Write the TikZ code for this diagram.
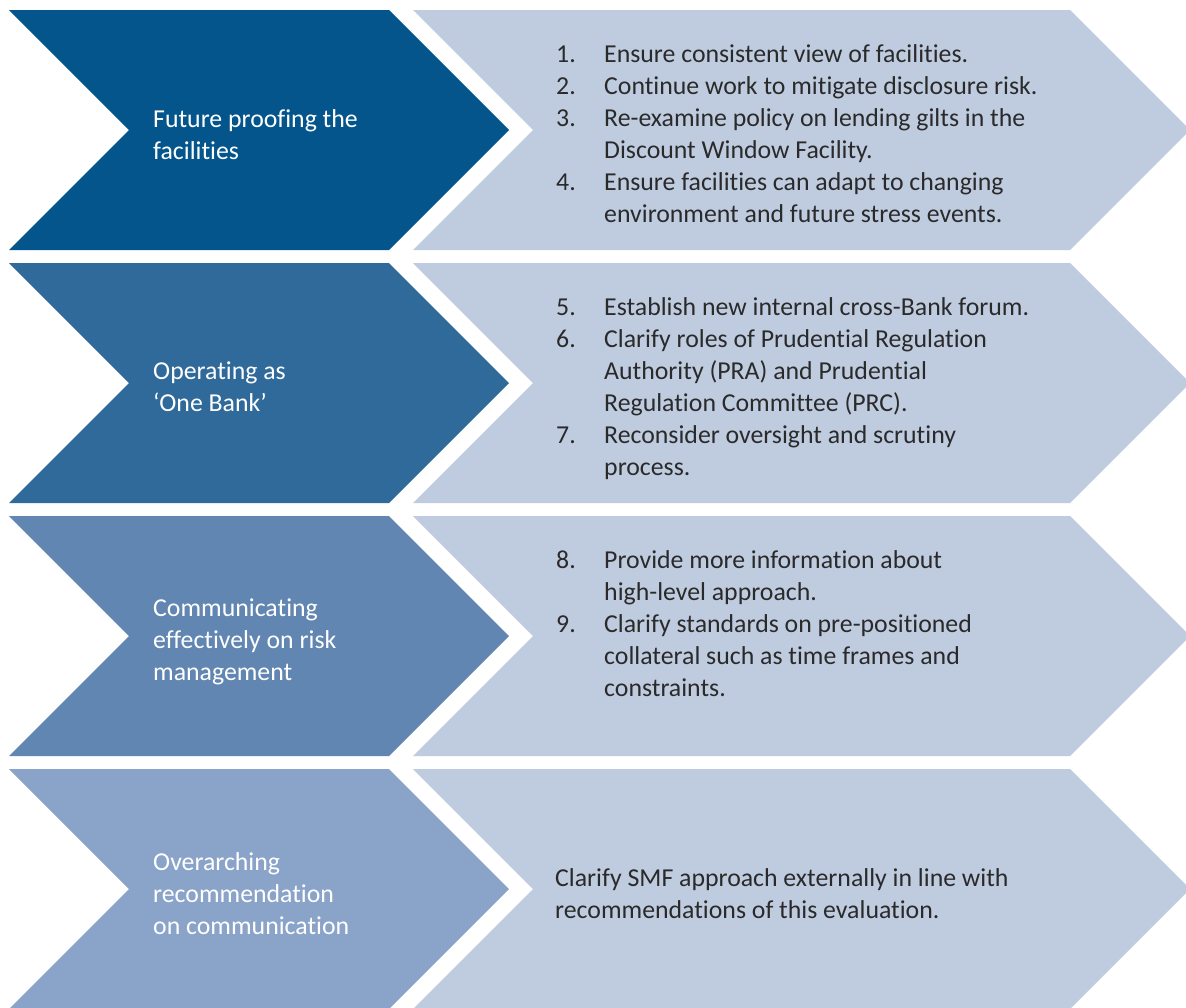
\documentclass[tikz,border=0pt]{standalone}
\usepackage{fontspec}
\setmainfont{Carlito}[RawFeature={-liga;-clig;-calt;-dlig;-rlig;-ccmp}]
\definecolor{rowA}{HTML}{03558C}
\definecolor{rowB}{HTML}{2F6A9A}
\definecolor{rowC}{HTML}{6186B2}
\definecolor{rowD}{HTML}{8AA3C8}
\definecolor{lightrow}{HTML}{BFCCE0}
\definecolor{txt}{HTML}{2A2A2A}
\tikzset{
  lefttext/.style={anchor=base west, inner sep=0pt, text=white, font=\fontsize{25.8}{32}\selectfont},
  righttext/.style={anchor=base west, inner sep=0pt, text=txt, font=\fontsize{25.8}{32}\selectfont},
}
\begin{document}
\begin{tikzpicture}[x=1pt,y=-1pt]
\useasboundingbox (0,0) rectangle (1186,1007);
\fill[white] (0,0) rectangle (1186,1007);
\foreach \t/\c in {10/rowA,263/rowB,516/rowC,769/rowD}{
  \fill[\c] (9,\t) -- (389,\t) -- (509,\t+120) -- (389,\t+240) -- (9,\t+240) -- (129,\t+120) -- cycle;
  \fill[lightrow] (413,\t) -- (1070,\t) -- (1190,\t+120) -- (1070,\t+240) -- (413,\t+240) -- (533,\t+120) -- cycle;
}
% left labels
\node[lefttext] (l1) at (153,127) {\begin{tabular}[t]{@{}l@{}}Future proofing the\\facilities\end{tabular}};
\node[lefttext] (l2) at (153,379) {\begin{tabular}[t]{@{}l@{}}Operating as\\‘One Bank’\end{tabular}};
\node[lefttext] (l3) at (153,616) {\begin{tabular}[t]{@{}l@{}}Communicating\\effectively on risk\\management\end{tabular}};
\node[lefttext] (l4) at (153,870) {\begin{tabular}[t]{@{}l@{}}Overarching\\recommendation\\on communication\end{tabular}};
% right lists
\node[righttext] (r1) at (556,62) {\begin{tabular}[t]{@{}l@{}l@{}}
\makebox[48pt][l]{1.}&Ensure consistent view of facilities.\\
\makebox[48pt][l]{2.}&Continue work to mitigate disclosure risk.\\
\makebox[48pt][l]{3.}&Re-examine policy on lending gilts in the\\
&Discount Window Facility.\\
\makebox[48pt][l]{4.}&Ensure facilities can adapt to changing\\
&environment and future stress events.
\end{tabular}};
\node[righttext] (r2) at (556,315) {\begin{tabular}[t]{@{}l@{}l@{}}
\makebox[48pt][l]{5.}&Establish new internal cross-Bank forum.\\
\makebox[48pt][l]{6.}&Clarify roles of Prudential Regulation\\
&Authority (PRA) and Prudential\\
&Regulation Committee (PRC).\\
\makebox[48pt][l]{7.}&Reconsider oversight and scrutiny\\
&process.
\end{tabular}};
\node[righttext] (r3) at (556,568) {\begin{tabular}[t]{@{}l@{}l@{}}
\makebox[48pt][l]{8.}&Provide more information about\\
&high-level approach.\\
\makebox[48pt][l]{9.}&Clarify standards on pre-positioned\\
&collateral such as time frames and\\
&constraints.
\end{tabular}};
\node[righttext] (r4) at (555,886) {\begin{tabular}[t]{@{}l@{}}
Clarify SMF approach externally in line with\\
recommendations of this evaluation.
\end{tabular}};
\end{tikzpicture}
\end{document}
